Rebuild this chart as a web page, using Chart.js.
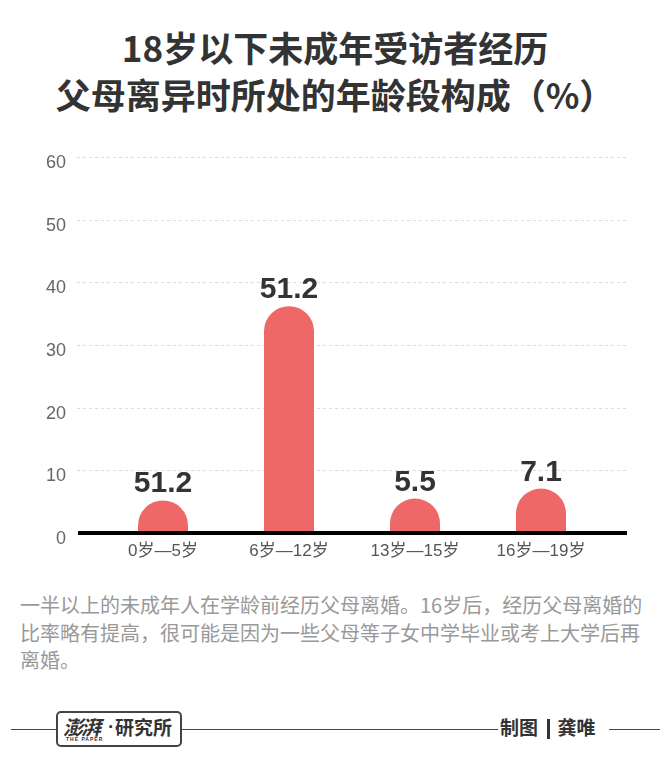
<!DOCTYPE html>
<html><head><meta charset="utf-8">
<script src="https://cdn.jsdelivr.net/npm/chart.js@4.4.1/dist/chart.umd.min.js"></script>
<style>
html,body{margin:0;padding:0;background:#fff;}
body{width:670px;height:776px;position:relative;overflow:hidden;font-family:"Noto Sans CJK SC","Liberation Sans",sans-serif;}
#title{position:absolute;left:0;top:23px;width:670px;text-align:center;font-size:35px;font-weight:bold;line-height:47px;color:#333;}
#wrap{position:absolute;left:0;top:140px;width:670px;height:430px;}
#note{position:absolute;left:20px;top:591px;width:634px;font-size:20px;line-height:27.5px;color:#999;}
.ln{position:absolute;height:0;border-top:1.5px solid #444;top:729px;}
#logo{position:absolute;left:56px;top:711px;width:122px;height:32px;border:2px solid #444;border-radius:5px;background:#fff;white-space:nowrap;}
#logo span{position:absolute;font-weight:bold;color:#333;line-height:28px;top:0;}
#logo .a{left:5px;font-size:20px;font-style:italic;letter-spacing:-2px;}
#logo .d{left:50px;font-size:19px;font-family:"Liberation Sans",sans-serif;}
#logo .b{left:57px;font-size:19px;}
#logo .c{left:8px;top:23px;font-size:5px;line-height:6px;font-family:"Liberation Sans",sans-serif;letter-spacing:1px;}
#credit{position:absolute;left:500px;top:712px;font-size:19px;font-weight:bold;color:#333;line-height:30px;white-space:nowrap;}
#credit .bar{display:inline-block;width:2.5px;height:20px;background:#333;margin:0 8px 0 9px;vertical-align:-4px;}
</style></head>
<body>
<div id="title">18岁以下未成年受访者经历<br>父母离异时所处的年龄段构成（%）</div>
<div id="wrap"><canvas id="c" width="670" height="430"></canvas></div>
<div id="note">一半以上的未成年人在学龄前经历父母离婚。16岁后，经历父母离婚的比率略有提高，很可能是因为一些父母等子女中学毕业或考上大学后再离婚。</div>
<div class="ln" style="left:11px;width:45px;"></div>
<div id="logo"><span class="a">澎湃</span><span class="d">·</span><span class="b">研究所</span><span class="c">THE PAPER</span></div>
<div class="ln" style="left:180px;width:318px;"></div>
<div id="credit">制图<span class="bar"></span>龚唯</div>
<div class="ln" style="left:609px;width:51px;"></div>
<script>
const categories = ["0岁—5岁", "6岁—12岁", "13岁—15岁", "16岁—19岁"];
const values = [5.2, 36.2, 5.5, 7.1];
const valueLabels = ["51.2", "51.2", "5.5", "7.1"];
const yTicks = [0, 10, 20, 30, 40, 50, 60];

const barColor = "#ee6868";

const customDraw = {
  id: 'customDraw',
  beforeDatasetsDraw(chart) {
    const ctx = chart.ctx, ys = chart.scales.y, xs = chart.scales.x;
    const left = xs.left - 23, right = xs.right + 23;
    ctx.save();
    ctx.strokeStyle = '#dcdcdc'; ctx.lineWidth = 1; ctx.setLineDash([3, 3]);
    ys.ticks.forEach(t => {
      if (t.value === 0) return;
      const py = Math.round(ys.getPixelForValue(t.value)) + 0.5;
      ctx.beginPath(); ctx.moveTo(left, py); ctx.lineTo(right, py); ctx.stroke();
    });
    ctx.setLineDash([]);
    const meta = chart.getDatasetMeta(0);
    ctx.fillStyle = barColor;
    meta.data.forEach(bar => {
      const p = bar.getProps(['x', 'y', 'base', 'width'], true);
      const r = p.width / 2;
      ctx.beginPath();
      ctx.moveTo(p.x - r, p.base);
      ctx.lineTo(p.x - r, p.y + r);
      ctx.arc(p.x, p.y + r, r, Math.PI, 0);
      ctx.lineTo(p.x + r, p.base);
      ctx.closePath();
      ctx.fill();
    });
    const py0 = ys.getPixelForValue(0);
    ctx.fillStyle = '#000';
    ctx.fillRect(left + 1, py0 - 2, right - left - 1, 4);
    ctx.fillStyle = '#333';
    ctx.font = 'bold 30px "Liberation Sans", Arial, sans-serif';
    ctx.textAlign = 'center'; ctx.textBaseline = 'alphabetic';
    meta.data.forEach((bar, i) => { ctx.fillText(valueLabels[i], bar.x, bar.y - 8); });
    ctx.restore();
    return false;
  }
};

new Chart(document.getElementById('c'), {
  type: 'bar',
  data: { labels: categories, datasets: [{ data: values, backgroundColor: barColor, barThickness: 50 }] },
  options: {
    responsive: false, animation: false, devicePixelRatio: 1,
    layout: { padding: { top: 17, right: 66, left: 0, bottom: 0 } },
    plugins: { legend: { display: false }, tooltip: { enabled: false } },
    scales: {
      x: {
        grid: { display: false, drawTicks: false }, border: { display: false },
        ticks: { font: { size: 17, family: '"Liberation Sans", "Noto Sans CJK SC", sans-serif' }, color: '#555', padding: 8, maxRotation: 0, autoSkip: false },
        afterFit(s) { s.height = 37; s.paddingLeft = 0; s.paddingRight = 0; s.paddingTop = 0; s.paddingBottom = 0; }
      },
      y: {
        min: 0, max: 60, border: { display: false }, grid: { display: false, drawTicks: false },
        ticks: { stepSize: 10, padding: 34, color: '#666', font: { size: 18, family: '"Liberation Sans", sans-serif' }, labelOffset: 6 },
        afterBuildTicks(s) { s.ticks = yTicks.map(v => ({ value: v })); },
        afterFit(s) { s.width = 100; s.paddingTop = 0; s.paddingBottom = 0; s.paddingLeft = 0; s.paddingRight = 0; }
      }
    }
  },
  plugins: [customDraw]
});
</script>
</body></html>
